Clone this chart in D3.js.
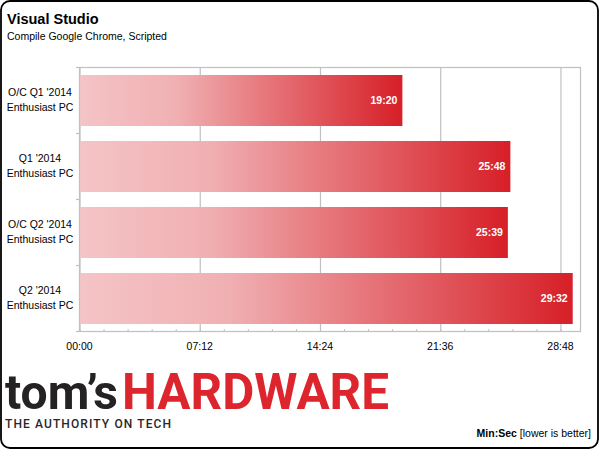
<!DOCTYPE html>
<html>
<head>
<meta charset="utf-8">
<script src="https://cdn.jsdelivr.net/npm/d3@7"></script>
<style>
  html, body { margin: 0; padding: 0; background: #ffffff; }
  svg { display: block; }
  text { font-family: "Liberation Sans", Arial, sans-serif; }
</style>
</head>
<body>
<div id="chart"></div>
<script>
// ---- data ----
const title = "Visual Studio";
const subtitle = "Compile Google Chrome, Scripted";
const categories = ["O/C Q1 '2014\nEnthusiast PC", "Q1 '2014\nEnthusiast PC", "O/C Q2 '2014\nEnthusiast PC", "Q2 '2014\nEnthusiast PC"];
const values = [1160, 1548, 1539, 1772]; // seconds
const tickValues = [0, 432, 864, 1296, 1728]; // seconds
const axisMax = 1800;
const unitLabelBold = "Min:Sec";
const unitLabelRest = " [lower is better]";

const fmt = s => {
  const m = Math.floor(s / 60), sec = Math.round(s % 60);
  return String(m).padStart(2, "0") + ":" + String(sec).padStart(2, "0");
};

const W = 600, H = 450;
const svg = d3.select("#chart").append("svg").attr("width", W).attr("height", H);

// outer frame
svg.append("rect").attr("x", 1).attr("y", 1).attr("width", 597).attr("height", 447)
  .attr("rx", 9).attr("fill", "#fff").attr("stroke", "#000").attr("stroke-width", 1.8);

const plot = { left: 79.5, right: 580.5, top: 67.5, bottom: 331.5 };

const x = d3.scaleLinear().domain([0, axisMax]).range([plot.left, plot.right]);
const y = d3.scaleBand().domain(categories).range([plot.top, plot.bottom])
  .paddingInner(0.227).paddingOuter(0.1135);

// gradient
const defs = svg.append("defs");
const grad = defs.append("linearGradient").attr("id", "barGrad")
  .attr("x1", "0%").attr("x2", "100%").attr("y1", "0%").attr("y2", "0%");
grad.append("stop").attr("offset", "0%").attr("stop-color", "#f5c4c6");
grad.append("stop").attr("offset", "30%").attr("stop-color", "#f0b0b3");
grad.append("stop").attr("offset", "100%").attr("stop-color", "#d71f27");

// gridlines
const grid = svg.append("g").attr("transform", `translate(0,${plot.bottom})`)
  .call(d3.axisBottom(x).tickValues(tickValues).tickSize(-(plot.bottom - plot.top)).tickFormat(""));
grid.select(".domain").remove();
grid.selectAll("line").attr("stroke", "#c0c0c0").attr("stroke-width", 1.2);

// bars
svg.append("g").selectAll("rect").data(values).join("rect")
  .attr("x", x(0) + 0.5)
  .attr("y", (d, i) => y(categories[i]))
  .attr("width", d => x(d) - x(0) - 0.5)
  .attr("height", y.bandwidth())
  .attr("fill", "url(#barGrad)");

// plot frame
svg.append("rect").attr("x", plot.left).attr("y", plot.top)
  .attr("width", plot.right - plot.left).attr("height", plot.bottom - plot.top)
  .attr("fill", "none").attr("stroke", "#c0c0c0").attr("stroke-width", 1.2);

// minor ticks (inward)
const minor = d3.range(0, axisMax + 0.01, 432 / 5);
const mt = svg.append("g").attr("transform", `translate(0,${plot.bottom})`)
  .call(d3.axisTop(x).tickValues(minor).tickSize(2.5).tickFormat(""));
mt.select(".domain").remove();
mt.selectAll("line").attr("stroke", "#c0c0c0");

// tick labels
svg.append("g").selectAll("text").data(tickValues).join("text")
  .attr("x", d => x(d)).attr("y", 350)
  .attr("text-anchor", "middle").attr("font-size", 10.5).attr("fill", "#000")
  .text(d => fmt(d));

// left boundary ticks
const bounds = d3.range(categories.length + 1).map(i => y.range()[0] + i * y.step());
svg.append("g").selectAll("line").data(bounds).join("line")
  .attr("x1", plot.left - 3.5).attr("x2", plot.left)
  .attr("y1", d => d).attr("y2", d => d)
  .attr("stroke", "#c0c0c0").attr("stroke-width", 1.2);

// category labels
const catG = svg.append("g");
categories.forEach(c => {
  const cy = y(c) + y.bandwidth() / 2;
  const lines = c.split("\n");
  const t = catG.append("text").attr("text-anchor", "middle").attr("font-size", 10.5).attr("fill", "#000");
  t.append("tspan").attr("x", 40).attr("y", cy - 5).text(lines[0]);
  t.append("tspan").attr("x", 40).attr("y", cy + 10.7).text(lines[1]);
});

// value labels
svg.append("g").selectAll("text").data(values).join("text")
  .attr("x", d => x(d) - 5)
  .attr("y", (d, i) => y(categories[i]) + y.bandwidth() / 2 + 3.8)
  .attr("text-anchor", "end").attr("font-size", 10.5).attr("font-weight", "bold")
  .attr("fill", "#fff")
  .text(d => fmt(d));

// title
svg.append("text").attr("x", 7).attr("y", 24).attr("font-size", 14.5).attr("font-weight", "bold")
  .attr("fill", "#000").text(title);
svg.append("text").attr("x", 7).attr("y", 39.5).attr("font-size", 10.5)
  .attr("fill", "#000").text(subtitle);

// unit label
const u = svg.append("text").attr("x", 591).attr("y", 437).attr("text-anchor", "end")
  .attr("font-size", 10.5).attr("fill", "#000");
u.append("tspan").attr("font-weight", "bold").text(unitLabelBold);
u.append("tspan").text(unitLabelRest);

// logo
svg.append("text").attr("x", 5).attr("y", 409).attr("font-size", 49)
  .style("font-family", "Roboto, 'Open Sans', sans-serif").attr("font-weight", 700)
  .attr("fill", "#252223").attr("textLength", 113).attr("lengthAdjust", "spacingAndGlyphs")
  .text("tom’s");
svg.append("text").attr("x", 122).attr("y", 409).attr("font-size", 50)
  .style("font-family", "Roboto, 'Open Sans', sans-serif").attr("font-weight", 700)
  .attr("fill", "#dc252d").attr("textLength", 267).attr("lengthAdjust", "spacingAndGlyphs")
  .text("HARDWARE");
svg.append("text").attr("x", 5).attr("y", 427.5).attr("font-size", 12)
  .style("font-family", "Roboto, 'Open Sans', sans-serif").attr("font-weight", 500)
  .attr("fill", "#2a2728").attr("textLength", 166).attr("lengthAdjust", "spacing")
  .text("THE AUTHORITY ON TECH");
</script>
</body>
</html>
